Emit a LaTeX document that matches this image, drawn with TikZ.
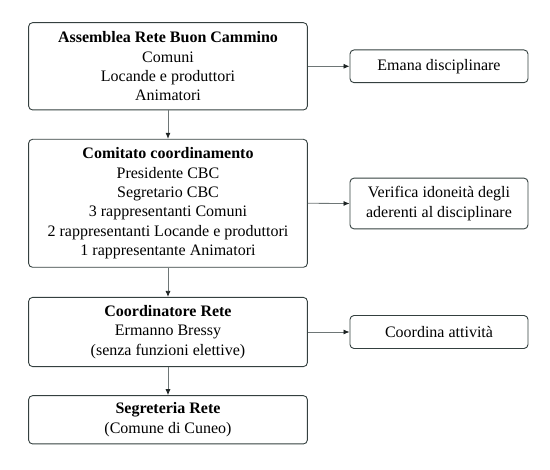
\documentclass[tikz,border=0pt]{standalone}
\usepackage{fontspec}
\setmainfont{Liberation Serif}
\usetikzlibrary{arrows.meta}
\definecolor{boxline}{HTML}{34403F}
\definecolor{arrline}{HTML}{6E7676}
\definecolor{headcol}{HTML}{1E2424}
\tikzset{
  basebox/.style={draw=boxline, line width=0.9pt, rounded corners=4pt, align=center,
    inner sep=0pt, text=black, font=\fontsize{16}{19.3}\selectfont},
  mainbox/.style={basebox, minimum width=278.8pt},
  sidebox/.style={basebox, minimum width=178pt},
  conn/.style={draw=arrline, line width=0.8pt,
    -{Latex[length=6pt,width=5pt,fill=headcol,color=headcol]}}
}
\begin{document}
\begin{tikzpicture}[x=1pt,y=1pt]
\useasboundingbox (0,0) rectangle (550,-470);
\node[mainbox, minimum height=87.3pt] (assemblea) at (168,-66.3)
  {\textbf{Assemblea Rete Buon Cammino}\\Comuni\\Locande e produttori\\Animatori};
\node[mainbox, minimum height=128pt] (comitato) at (168,-203.3)
  {\textbf{Comitato coordinamento}\\Presidente CBC\\Segretario CBC\\3 rappresentanti Comuni\\2 rappresentanti Locande e produttori\\1 rappresentante Animatori};
\node[mainbox, minimum height=69.2pt] (coord) at (168,-332)
  {\textbf{Coordinatore Rete}\\Ermanno Bressy\\(senza funzioni elettive)};
\node[mainbox, minimum height=48.3pt] (segr) at (168,-419.8)
  {\textbf{Segreteria Rete}\\(Comune di Cuneo)};
\node[sidebox, minimum height=32.7pt] (emana) at (439,-66.3) {Emana disciplinare};
\node[sidebox, minimum height=50.7pt] (verifica) at (439,-203.5)
  {Verifica idoneità degli\\aderenti al disciplinare};
\node[sidebox, minimum height=33pt] (coordina) at (439,-332) {Coordina attività};
\draw[conn] (assemblea.south) -- (comitato.north);
\draw[conn] (comitato.south) -- (coord.north);
\draw[conn] (coord.south) -- (segr.north);
\draw[conn] (assemblea.east) -- (emana.west);
\draw[conn] (comitato.east) -- (verifica.west);
\draw[conn] (coord.east) -- (coordina.west);
\end{tikzpicture}
\end{document}
